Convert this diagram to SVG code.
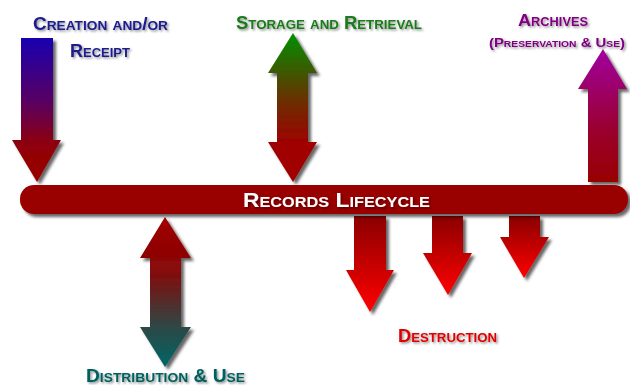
<svg xmlns="http://www.w3.org/2000/svg" width="630" height="385" viewBox="0 0 630 385">
<defs>
<style>
.lbl{font-family:"Liberation Sans",Arial,sans-serif;font-weight:bold;font-variant:small-caps;filter:url(#ts)}
.arrow{filter:url(#ds)}
</style>
<filter id="ds" x="-30%" y="-10%" width="160%" height="130%">
<feDropShadow dx="3" dy="3" stdDeviation="1.5" flood-color="#000" flood-opacity="0.6"/>
</filter>
<filter id="ts" x="-10%" y="-30%" width="120%" height="160%">
<feDropShadow dx="1.5" dy="1.5" stdDeviation="1" flood-color="#000" flood-opacity="0.45"/>
</filter>
<linearGradient id="gBlue" x1="0" y1="0" x2="0" y2="1">
<stop offset="0" stop-color="#1800b0"/><stop offset="0.45" stop-color="#5a0060"/><stop offset="0.75" stop-color="#900008"/><stop offset="1" stop-color="#990000"/>
</linearGradient>
<linearGradient id="gGreen" x1="0" y1="0" x2="0" y2="1">
<stop offset="0" stop-color="#009000"/><stop offset="0.45" stop-color="#6a3000"/><stop offset="0.75" stop-color="#a00000"/><stop offset="1" stop-color="#a00000"/>
</linearGradient>
<linearGradient id="gPurple" x1="0" y1="0" x2="0" y2="1">
<stop offset="0" stop-color="#a000a0"/><stop offset="0.6" stop-color="#9a0030"/><stop offset="1" stop-color="#990000"/>
</linearGradient>
<linearGradient id="gTeal" x1="0" y1="0" x2="0" y2="1">
<stop offset="0" stop-color="#a00000"/><stop offset="0.35" stop-color="#880808"/><stop offset="0.75" stop-color="#2a4a48"/><stop offset="1" stop-color="#006666"/>
</linearGradient>
<linearGradient id="gRed" x1="0" y1="0" x2="0" y2="1">
<stop offset="0" stop-color="#8a0000"/><stop offset="1" stop-color="#ff0000"/>
</linearGradient>
</defs>
<rect width="630" height="385" fill="#fff"/>

<g id="connectors">
<path class="arrow" d="M21,38 H53 V140 H61 L37,182 L12,140 H21 Z" fill="url(#gBlue)"/>
<path class="arrow" d="M293,33 L317,73 H308 V142 H317 L293,182 L268,142 H277 V73 H268 Z" fill="url(#gGreen)"/>
<path class="arrow" d="M603,49 L627,89 H618 V182 H588 V89 H578 Z" fill="url(#gPurple)"/>
<path class="arrow" d="M165,217 L191,258 H181 V327 H191 L165,367 L140,327 H150 V258 H140 Z" fill="url(#gTeal)"/>
<path class="arrow" d="M354,216 H386 V270 H394 L370,312 L346,270 H354 Z" fill="url(#gRed)"/>
<path class="arrow" d="M432,216 H463 V253 H472 L448,295 L423,253 H432 Z" fill="url(#gRed)"/>
<path class="arrow" d="M509,216 H540 V237 H549 L524,278 L500,237 H509 Z" fill="url(#gRed)"/>
</g>

<g id="lifecycle">
<rect x="20" y="185" width="608" height="29" rx="14" ry="14" fill="#990000" filter="url(#ds)"/>
<text class="lbl" x="243" y="207" font-size="21" fill="#fff" textLength="187" lengthAdjust="spacingAndGlyphs">Records Lifecycle</text>
</g>

<g id="creation">
<text class="lbl" x="33" y="30" font-size="18" fill="#1a1a8c" textLength="135" lengthAdjust="spacingAndGlyphs">Creation and/or</text>
<text class="lbl" x="70" y="57" font-size="18" fill="#1a1a8c" textLength="60" lengthAdjust="spacingAndGlyphs">Receipt</text>
</g>

<g id="storage">
<text class="lbl" x="236" y="29" font-size="18" fill="#1a7a1a" textLength="186" lengthAdjust="spacingAndGlyphs">Storage and Retrieval</text>
</g>

<g id="archives">
<text class="lbl" x="518" y="26" font-size="17" fill="#800080" textLength="70" lengthAdjust="spacingAndGlyphs">Archives</text>
<text class="lbl" x="489" y="47" font-size="13" fill="#800080" textLength="136" lengthAdjust="spacingAndGlyphs">(Preservation &amp; Use)</text>
</g>

<g id="distribution">
<text class="lbl" x="86" y="382" font-size="18" fill="#006060" textLength="159" lengthAdjust="spacingAndGlyphs">Distribution &amp; Use</text>
</g>

<g id="destruction">
<text class="lbl" x="398" y="342" font-size="18" fill="#e00000" textLength="99" lengthAdjust="spacingAndGlyphs">Destruction</text>
</g>
</svg>
